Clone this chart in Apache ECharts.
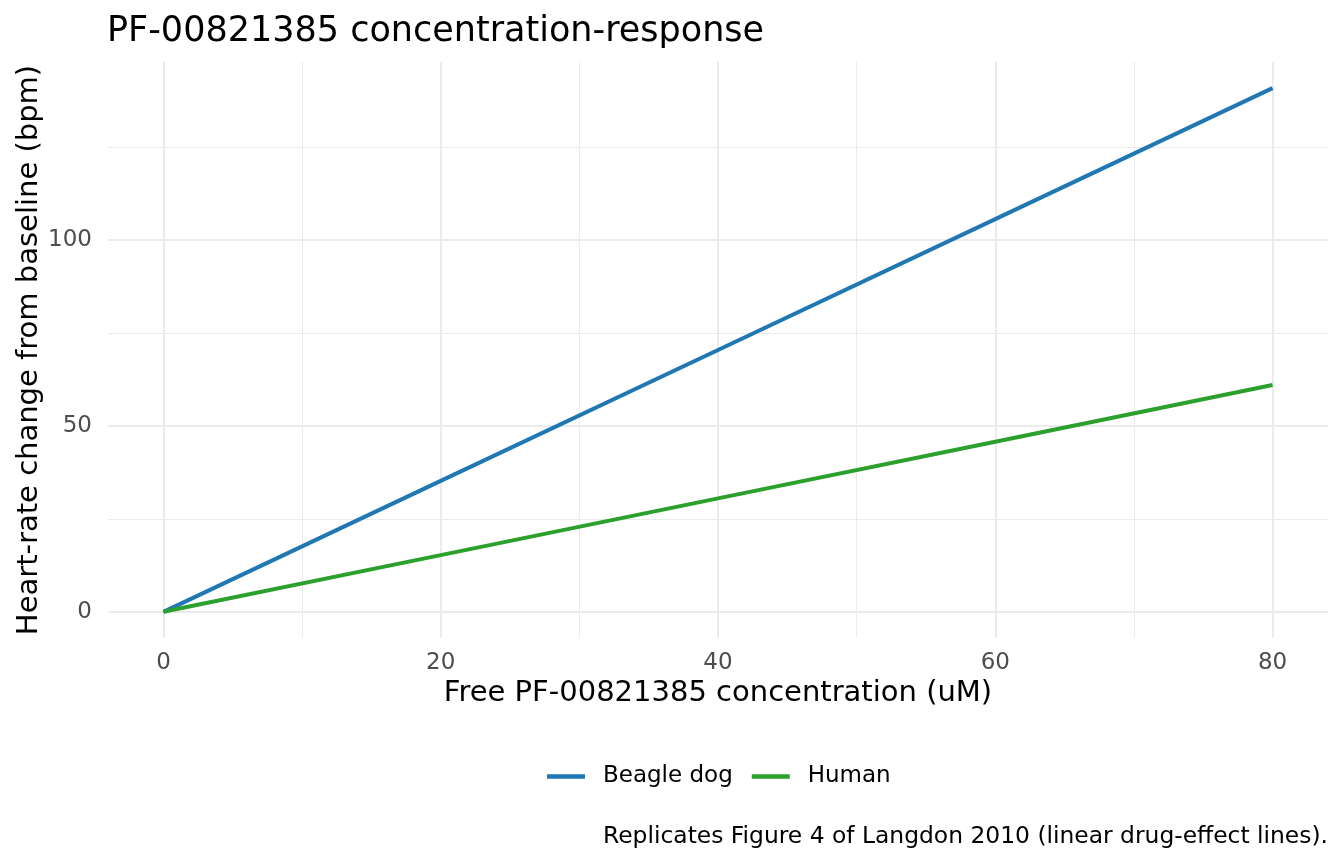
<!DOCTYPE html>
<html>
<head>
<meta charset="utf-8">
<script src="https://cdn.jsdelivr.net/npm/echarts@6/dist/echarts.min.js"></script>
<style>
html,body{margin:0;padding:0;background:#fff;}
#chart{width:1344px;height:864px;}
</style>
</head>
<body>
<div id="chart"></div>
<script>
// ---- data ----
const concentration = [0, 20, 40, 60, 80];
const beagleDog = [0, 35.2, 70.4, 105.6, 140.8];
const human = [0, 15.25, 30.5, 45.75, 61];
const seriesNames = ['Beagle dog', 'Human'];
const xTickLabels = [0, 20, 40, 60, 80];
const xMinorTicks = [10, 30, 50, 70];
const yTickLabels = [0, 50, 100];
const yMinorTicks = [25, 75, 125];

const FONT = 'DejaVu Sans';
const chart = echarts.init(document.getElementById('chart'), null, {renderer: 'canvas'});

function pairs(xs, ys) { return xs.map((x, i) => [x, ys[i]]); }

const gridLines = [];
xTickLabels.forEach(v => gridLines.push({xAxis: v, lineStyle: {width: 2, color: '#ebebeb', type: 'solid'}}));
xMinorTicks.forEach(v => gridLines.push({xAxis: v, lineStyle: {width: 1, color: '#ebebeb', type: 'solid'}}));
yTickLabels.forEach(v => gridLines.push({yAxis: v, lineStyle: {width: 2, color: '#ebebeb', type: 'solid'}}));
yMinorTicks.forEach(v => gridLines.push({yAxis: v, lineStyle: {width: 1, color: '#ebebeb', type: 'solid'}}));

const option = {
  backgroundColor: '#ffffff',
  animation: false,
  textStyle: {fontFamily: FONT},
  title: [
    {text: 'PF-00821385 concentration-response', left: 107, top: 14, padding: 0,
     textStyle: {fontFamily: FONT, fontSize: 35, fontWeight: 'normal', color: '#000'}},
    {text: 'Replicates Figure 4 of Langdon 2010 (linear drug-effect lines).', right: 16, top: 825, padding: 0,
     textStyle: {fontFamily: FONT, fontSize: 23.4, fontWeight: 'normal', color: '#000'}}
  ],
  legend: {
    data: seriesNames,
    left: 547, top: 765, padding: 0,
    icon: 'rect',
    itemWidth: 38, itemHeight: 4.5, itemGap: 19,
    textStyle: {fontFamily: FONT, fontSize: 23, color: '#000', padding: [0, 0, 0, 13]}
  },
  grid: {left: 108, right: 16, top: 62, bottom: 226, containLabel: false},
  xAxis: {
    type: 'value', min: -4, max: 84,
    name: 'Free PF-00821385 concentration (uM)', nameLocation: 'middle', nameGap: 41,
    nameMoveOverlap: false,
    nameTextStyle: {fontFamily: FONT, fontSize: 29, color: '#000'},
    axisLine: {show: false}, axisTick: {show: false},
    splitLine: {show: false},
    axisLabel: {customValues: xTickLabels, fontFamily: FONT, fontSize: 23, color: '#4d4d4d', margin: 14}
  },
  yAxis: {
    type: 'value', min: -7.04, max: 147.84,
    name: 'Heart-rate change from baseline (bpm)', nameLocation: 'middle', nameGap: 64,
    nameMoveOverlap: false,
    nameTextStyle: {fontFamily: FONT, fontSize: 29, color: '#000'},
    axisLine: {show: false}, axisTick: {show: false},
    splitLine: {show: false},
    axisLabel: {customValues: yTickLabels, fontFamily: FONT, fontSize: 23, color: '#4d4d4d', margin: 16}
  },
  series: [
    {name: '_grid', type: 'line', data: [[0, 0]], symbol: 'none', lineStyle: {opacity: 0}, z: 0, silent: true,
     markLine: {z: 0, silent: true, symbol: 'none', label: {show: false}, animation: false, data: gridLines}},
    {name: seriesNames[0], type: 'line', data: pairs(concentration, beagleDog), symbol: 'none', z: 10,
     lineStyle: {width: 4, color: '#1f77b4'}, itemStyle: {color: '#1f77b4'}},
    {name: seriesNames[1], type: 'line', data: pairs(concentration, human), symbol: 'none', z: 10,
     lineStyle: {width: 4, color: '#2ca02c'}, itemStyle: {color: '#2ca02c'}}
  ]
};
chart.setOption(option);
</script>
</body>
</html>
